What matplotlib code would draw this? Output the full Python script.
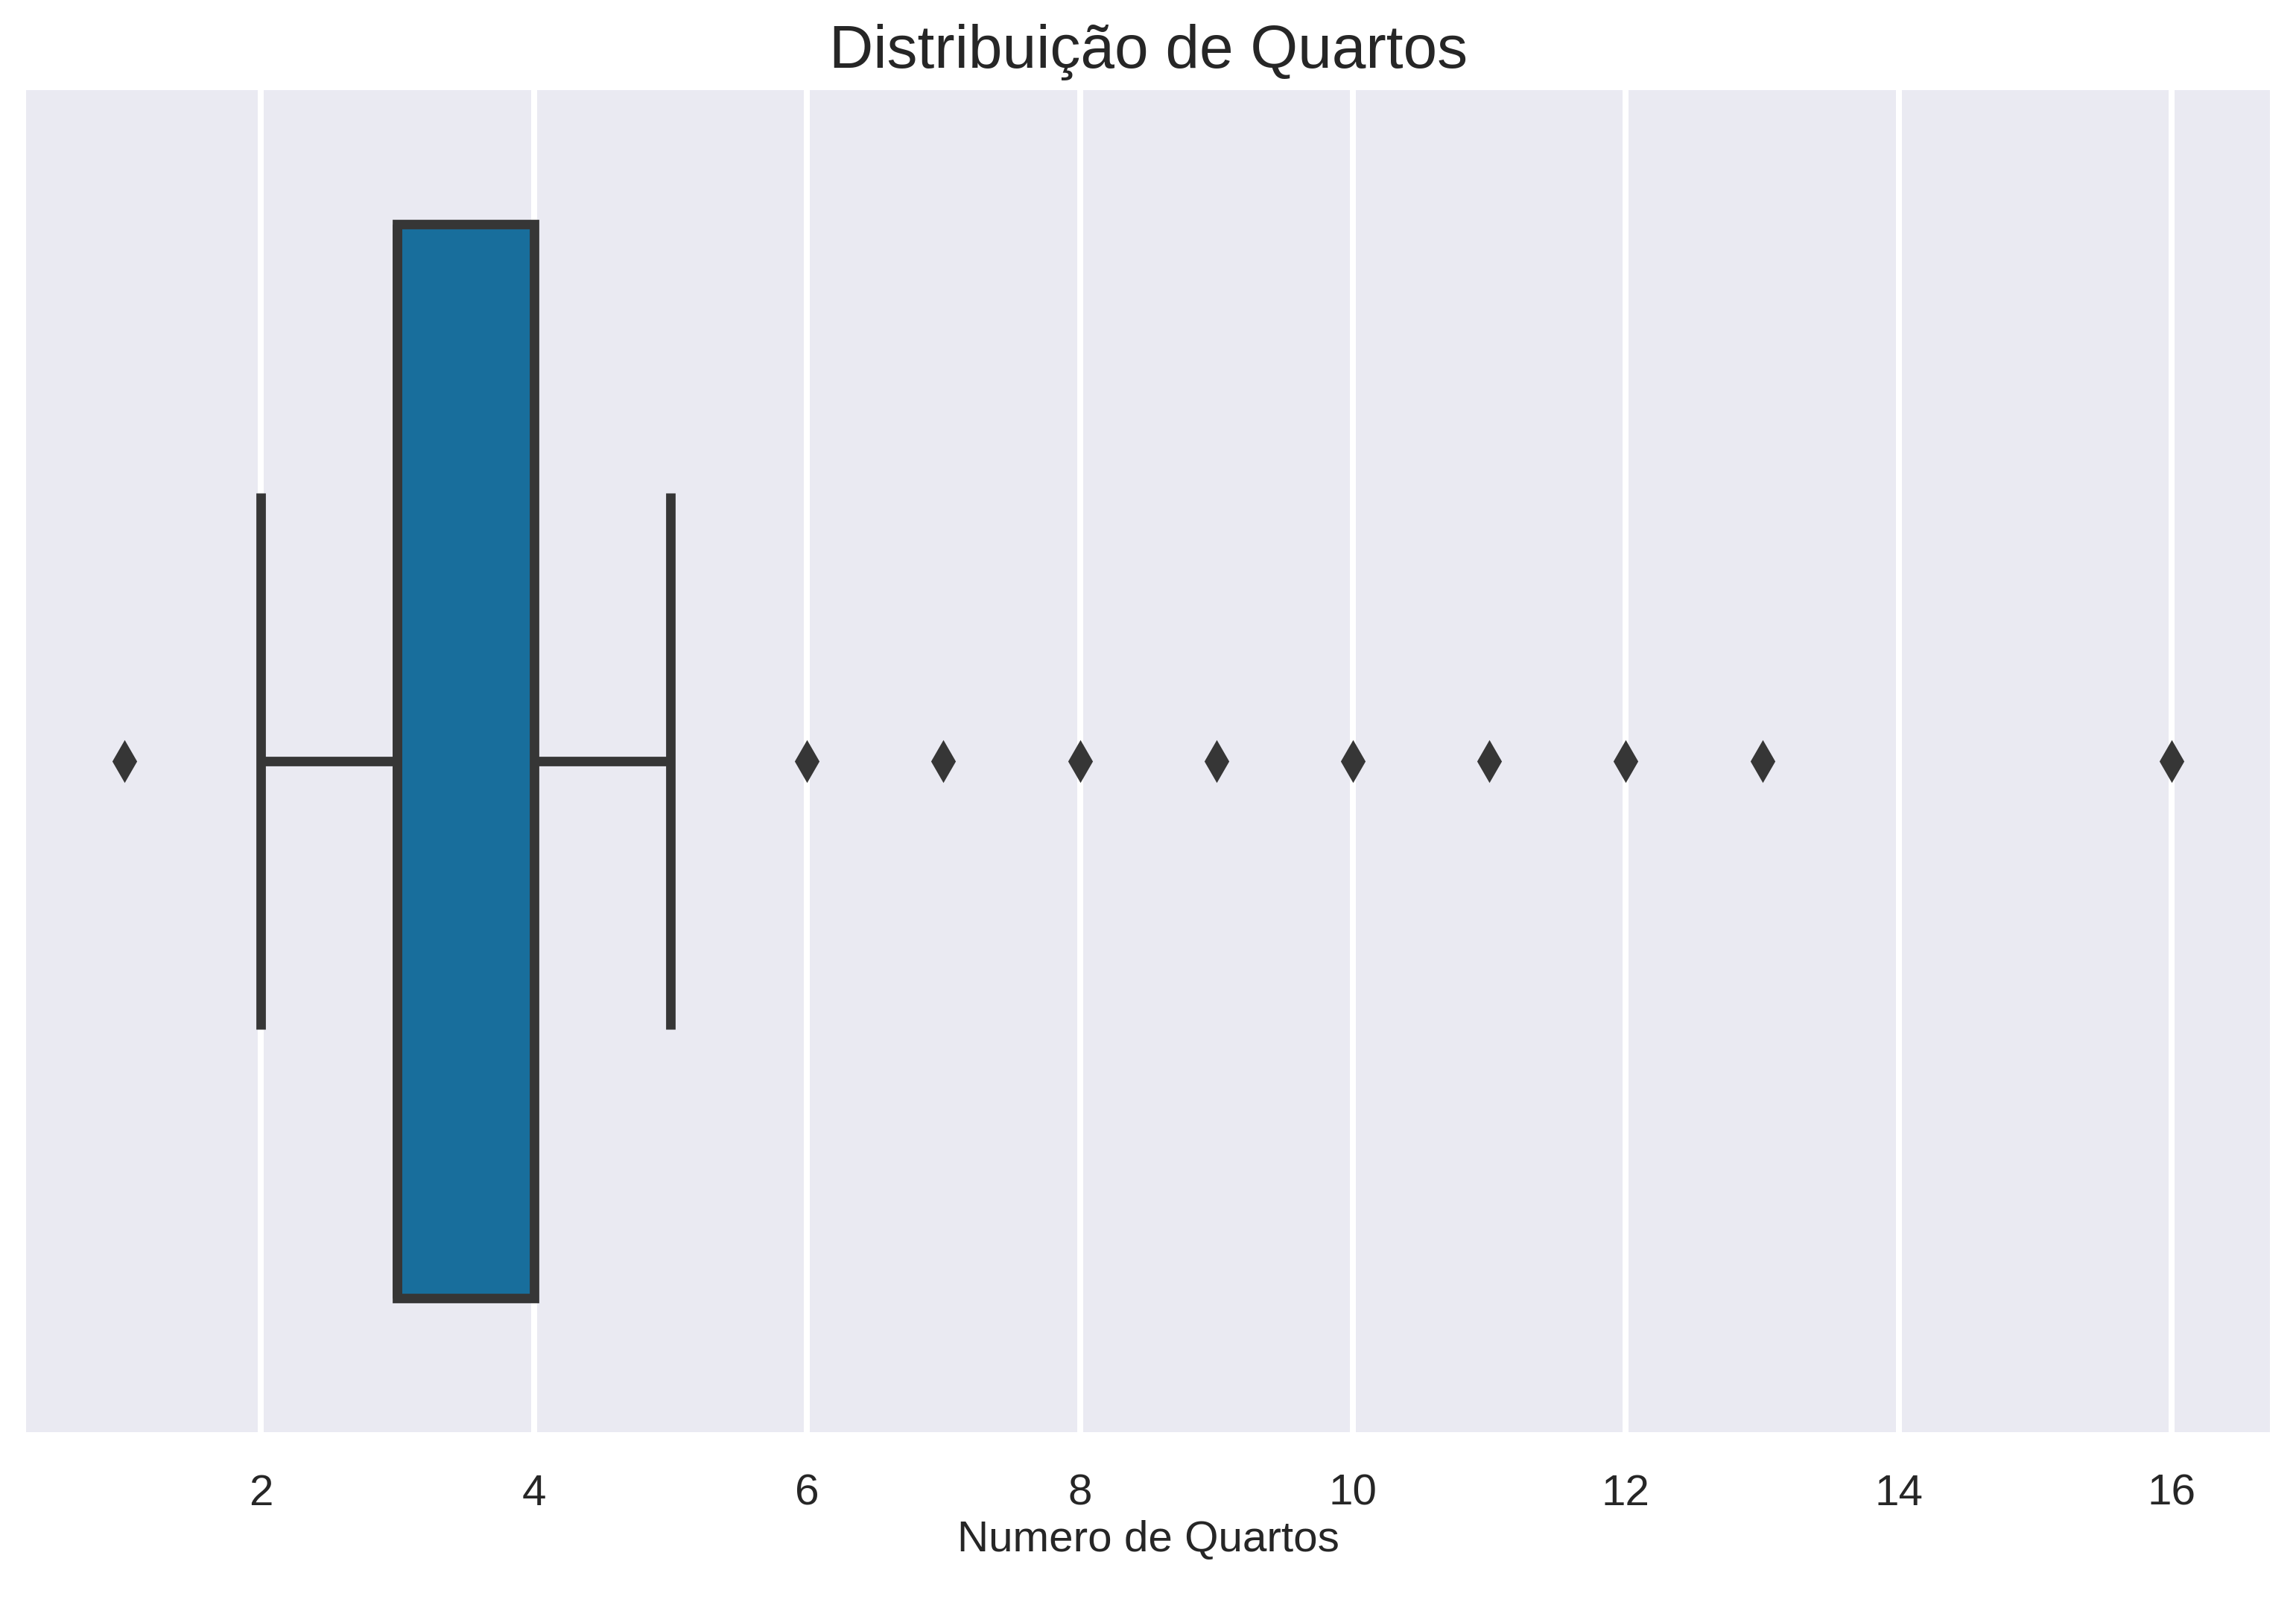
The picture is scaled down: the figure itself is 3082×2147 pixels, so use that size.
import matplotlib
matplotlib.use("Agg")
import matplotlib.pyplot as plt

# Data (boxplot summary)
q1 = 3
median = 3
q3 = 4
whisker_low = 2
whisker_high = 5
outliers = [1, 6, 7, 8, 9, 10, 11, 12, 13, 16]
xticks = [2, 4, 6, 8, 10, 12, 14, 16]

plt.rcParams['font.family'] = ['Liberation Sans', 'DejaVu Sans']

fig = plt.figure(figsize=(15.41, 10.735), dpi=200)
ax = fig.add_axes([0.0114, 0.1043, 0.9773, 0.8393])
ax.set_facecolor('#EAEAF2')
for s in ax.spines.values():
    s.set_visible(False)

edge = '#363636'
lw = 4.6
stats = [dict(med=median, q1=q1, q3=q3, whislo=whisker_low, whishi=whisker_high,
              fliers=outliers, label='')]
ax.bxp(stats, positions=[0], widths=0.8, vert=False, patch_artist=True,
       capwidths=0.4,
       boxprops=dict(facecolor='#186E9C', edgecolor=edge, linewidth=lw),
       whiskerprops=dict(color=edge, linewidth=lw, solid_capstyle='butt'),
       capprops=dict(color=edge, linewidth=lw, solid_capstyle='butt'),
       medianprops=dict(color=edge, linewidth=lw),
       flierprops=dict(marker='d', markerfacecolor=edge, markeredgecolor=edge,
                       markersize=13, linestyle='none'),
       zorder=3)

ax.set_ylim(0.5, -0.5)
ax.set_yticks([])
ax.set_xlim(0.28, 16.72)
ax.set_xticks(xticks)
ax.set_xticklabels([str(t) for t in xticks])
ax.grid(True, axis='x', color='white', linewidth=2.9, zorder=0)
ax.set_axisbelow(True)
ax.tick_params(axis='x', length=0, pad=20, labelsize=21, labelcolor='#262626')
ax.set_xlabel('Numero de Quartos', fontsize=21, color='#262626', labelpad=3)
ax.set_title('Distribuição de Quartos', fontsize=29.5, color='#262626', pad=11)

fig.savefig('out.png', dpi=200, facecolor='white')
